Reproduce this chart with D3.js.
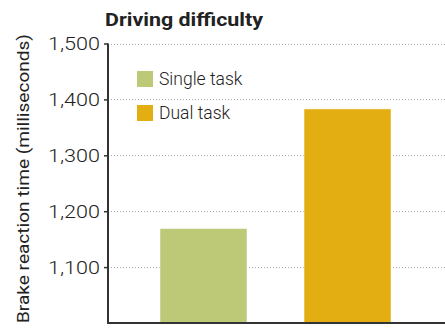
<!DOCTYPE html>
<html><head><meta charset="utf-8">
<script src="https://cdn.jsdelivr.net/npm/d3@7"></script>
<style>body{margin:0;background:#fff}svg{display:block}</style>
</head><body>
<script>
const categories = ["Single task", "Dual task"];
const values = [1169, 1383];
const colors = ["#bdc977", "#e3ae11"];
const tickValues = [1100, 1200, 1300, 1400, 1500];
const title = "Driving difficulty";
const yLabel = "Brake reaction time (milliseconds)";

const W = 445, H = 331;
const m = {left: 108, right: 0, top: 43.5, bottom: 8};
const svg = d3.select("body").append("svg").attr("width", W).attr("height", H);

const y = d3.scaleLinear().domain([1000, 1500]).range([H - m.bottom, m.top]);
const x = d3.scaleBand().domain(categories).range([m.left, 443]).paddingInner(0.396).paddingOuter(0.361);

// gridlines
svg.append("g").selectAll("line").data(tickValues).join("line")
  .attr("x1", m.left).attr("x2", W)
  .attr("y1", d => Math.round(y(d)) + 0.5).attr("y2", d => Math.round(y(d)) + 0.5)
  .attr("stroke", "#aaa").attr("stroke-width", 1).attr("stroke-dasharray", "1,2");

// bars
svg.append("g").selectAll("rect").data(values).join("rect")
  .attr("x", (d, i) => x(categories[i]))
  .attr("width", x.bandwidth())
  .attr("y", d => y(d))
  .attr("height", d => y(1000) - y(d))
  .attr("fill", (d, i) => colors[i])
  .attr("stroke", "#fff").attr("stroke-opacity", 0.5).attr("stroke-width", 1);

// y axis
const yAxis = d3.axisLeft(y).tickValues(tickValues).tickSize(4).tickPadding(4)
  .tickFormat(d3.format(","));
const gy = svg.append("g").attr("transform", `translate(${m.left},0)`).call(yAxis);
gy.select(".domain").attr("stroke", "#333").attr("stroke-width", 2)
  .attr("d", `M0,${m.top}V${H - m.bottom}`);
gy.selectAll(".tick line").attr("stroke", "#333").attr("stroke-width", 1.5);
gy.selectAll(".tick text").attr("font-family", "Roboto, sans-serif").attr("font-weight", 300)
  .attr("font-size", 18.5).attr("fill", "#222")
  .attr("textLength", 52).attr("lengthAdjust", "spacingAndGlyphs");

// x axis baseline
svg.append("line").attr("x1", m.left - 1).attr("x2", W)
  .attr("y1", y(1000)).attr("y2", y(1000))
  .attr("stroke", "#333").attr("stroke-width", 2);

// title
svg.append("text").attr("x", 105).attr("y", 26).text(title)
  .attr("font-family", "Roboto, sans-serif").attr("font-weight", 700)
  .attr("font-size", 18.5).attr("fill", "#222")
  .attr("textLength", 158).attr("lengthAdjust", "spacingAndGlyphs");

// y label
svg.append("text").attr("transform", `translate(29,323) rotate(-90)`)
  .text(yLabel).attr("font-family", "Roboto, sans-serif")
  .attr("font-size", 16.5).attr("fill", "#222")
  .attr("textLength", 289).attr("lengthAdjust", "spacingAndGlyphs");

// legend
const lg = svg.append("g").selectAll("g").data(categories).join("g")
  .attr("transform", (d, i) => `translate(137,${71 + i * 34})`);
lg.append("rect").attr("width", 16).attr("height", 16)
  .attr("fill", (d, i) => colors[i]);
lg.append("text").attr("x", 22).attr("y", 14).text(d => d)
  .attr("font-family", "Roboto, sans-serif").attr("font-weight", 300)
  .attr("font-size", 17.5).attr("fill", "#222");
</script>
</body></html>
